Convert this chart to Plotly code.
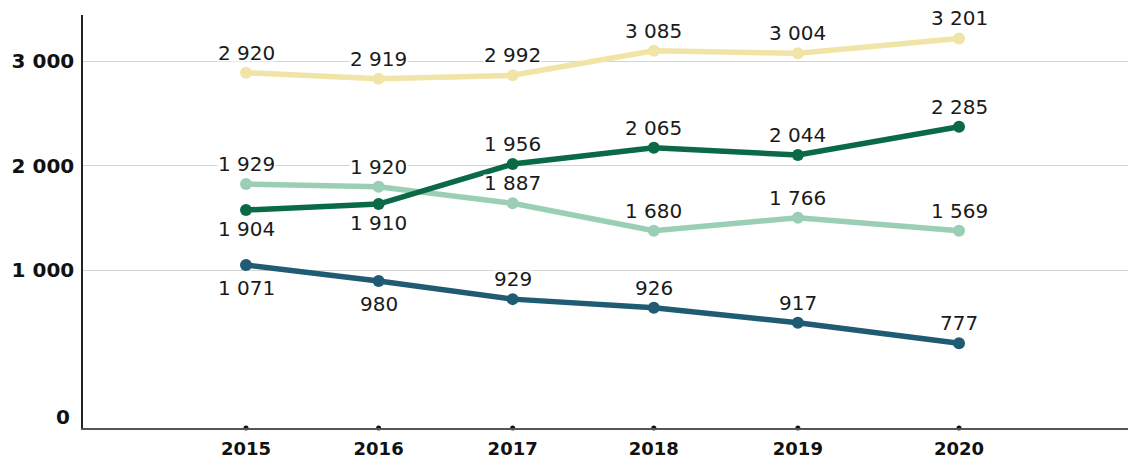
import plotly.graph_objects as go

# ---- data ----
years = ["2015", "2016", "2017", "2018", "2019", "2020"]
# horizontal placement of each year on the axis (uneven in the reference)
year_pos = [2015.0, 2015.93, 2016.87, 2017.86, 2018.87, 2020.0]

yellow_vals = [2891, 2833, 2866, 3102, 3077, 3219]
yellow_labels = ["2 920", "2 919", "2 992", "3 085", "3 004", "3 201"]

light_vals = [1824, 1798, 1639, 1377, 1501, 1377]
light_labels = ["1 929", "1 920", "1 887", "1 680", "1 766", "1 569"]

dark_vals = [1575, 1632, 2016, 2172, 2102, 2373]
dark_labels = ["1 904", "1 910", "1 956", "2 065", "2 044", "2 285"]

blue_vals = [1048, 895, 721, 639, 495, 298]
blue_labels = ["1 071", "980", "929", "926", "917", "777"]

y_tick_vals = [1000, 2000, 3000]
y_tick_text = ["1 000", "2 000", "3 000"]

# ---- styling ----
ABOVE, BELOW_DARK, BELOW_BLUE = 20, -19, -23
series = [
    (yellow_vals, yellow_labels, "#F1E4A7", [ABOVE] * 6),
    (light_vals, light_labels, "#9BCFB5", [ABOVE] * 6),
    (dark_vals, dark_labels, "#0B6A46", [BELOW_DARK, BELOW_DARK] + [ABOVE] * 4),
    (blue_vals, blue_labels, "#1F5B72", [BELOW_BLUE, BELOW_BLUE] + [ABOVE] * 4),
]

Y_RANGE = [-514, 3444]
X_RANGE = [2013.857, 2021.185]
LABEL_FONT = dict(family="DejaVu Sans", size=20, color="#1a1a1a")
YTICK_FONT = dict(family="DejaVu Sans", size=20, color="#111111", weight="bold")
XTICK_FONT = dict(family="DejaVu Sans", size=18, color="#111111", weight="bold")

fig = go.Figure()

for vals, labels, color, shifts in series:
    fig.add_trace(go.Scatter(
        x=year_pos, y=vals, mode="lines+markers",
        line=dict(color=color, width=5.5),
        marker=dict(color=color, size=12),
        hoverinfo="skip", showlegend=False,
    ))

# small dots on the x axis at each year
fig.add_trace(go.Scatter(
    x=year_pos, y=[Y_RANGE[0]] * len(year_pos), mode="markers",
    marker=dict(color="#111111", size=5), cliponaxis=False,
    hoverinfo="skip", showlegend=False,
))

annotations = []
for vals, labels, color, shifts in series:
    for xv, yv, lab, sh in zip(year_pos, vals, labels, shifts):
        annotations.append(dict(
            x=xv, y=yv, xref="x", yref="y", text=lab, showarrow=False,
            yshift=sh, font=LABEL_FONT, bgcolor="white",
            borderpad=0, height=16,
        ))

# "0" label at the foot of the value axis
annotations.append(dict(
    x=0, y=0, xref="paper", yref="paper", text="0", showarrow=False,
    xanchor="right", yanchor="bottom", xshift=-11, yshift=-3, font=YTICK_FONT,
))

fig.update_layout(
    width=1128, height=458,
    margin=dict(l=83, r=0, t=15, b=30),
    paper_bgcolor="white", plot_bgcolor="white",
    annotations=annotations,
    xaxis=dict(
        range=X_RANGE, tickvals=year_pos, ticktext=years,
        showgrid=False, zeroline=False,
        showline=True, linecolor="#555555", linewidth=2,
        tickfont=XTICK_FONT, ticks="", ticklabelstandoff=3,
    ),
    yaxis=dict(
        range=Y_RANGE, tickvals=y_tick_vals, ticktext=y_tick_text,
        showgrid=True, gridcolor="#d3d3d3", gridwidth=1.2,
        zeroline=False, showline=True, linecolor="#222222", linewidth=1.5,
        tickfont=YTICK_FONT, ticks="", ticklabelstandoff=3,
    ),
)

fig.write_html(
    "out.html",
    config={"displayModeBar": False},
    post_script="document.body.style.margin='0';document.body.style.overflow='hidden';",
)
